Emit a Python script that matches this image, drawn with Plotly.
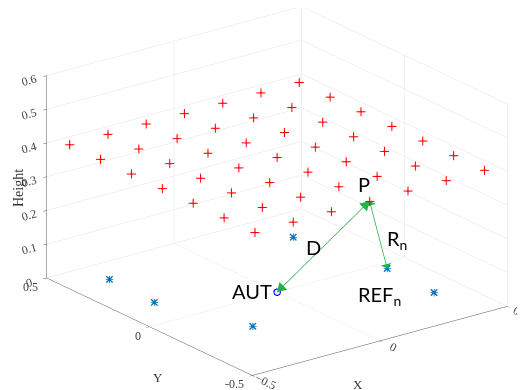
import numpy as np
import plotly.graph_objects as go

# ---- data ----
grid_x = [-0.45, -0.30, -0.15, 0.0, 0.15, 0.30, 0.45]
grid_y = [-0.45, -0.30, -0.15, 0.0, 0.15, 0.30, 0.45]
grid_height = 0.4

ref_x = [-0.35, -0.36, -0.24, 0.33, 0.40, 0.39]
ref_y = [0.38, 0.15, -0.18, 0.33, -0.04, -0.28]
ref_z = [0, 0, 0, 0, 0, 0]

aut = [0.0, 0.0, 0.0]
p_point = [0.0, -0.45, 0.4]
ref_n_index = 4

x_ticks = [-0.5, 0, 0.5]
y_ticks = [-0.5, 0, 0.5]
y_tick_labels = ["-0.5", "0", "0.5"]
z_ticks = [0, 0.1, 0.2, 0.3, 0.4, 0.5, 0.6]
x_range = [-0.5, 0.5]
y_range = [-0.5, 0.5]
z_range = [0, 0.6]

RED = "#ff0000"
BLUE = "#0072BD"
GREEN = "#22b14c"

# ---- view ----
zoom = 1.75
aspect = np.array([0.937, 1.0, 0.635]) * zoom
elev = np.radians(21.0)
azim = np.radians(180 + 52.9)
eye_dir = np.array([np.cos(elev) * np.cos(azim), np.cos(elev) * np.sin(azim), np.sin(elev)])
r = 2.0
right_vec = np.array([-np.sin(azim), np.cos(azim), 0.0])
center = np.array([0.0, 0.0, 0.0]) - 0.033 * right_vec + np.array([0, 0, -0.066])

span = np.array([x_range[1] - x_range[0], y_range[1] - y_range[0], z_range[1] - z_range[0]])
scale = aspect / span  # data -> scene units

gx, gy = np.meshgrid(grid_x, grid_y)
gx = gx.ravel()
gy = gy.ravel()
gz = np.full_like(gx, grid_height)

fig = go.Figure()
fig.add_trace(go.Scatter3d(x=gx, y=gy, z=gz, mode="markers",
                           marker=dict(symbol="cross", size=5, color=RED),
                           showlegend=False, hoverinfo="skip"))
fig.add_trace(go.Scatter3d(x=ref_x, y=ref_y, z=ref_z, mode="markers",
                           marker=dict(symbol="cross", size=4, color=BLUE),
                           showlegend=False, hoverinfo="skip"))
fig.add_trace(go.Scatter3d(x=ref_x, y=ref_y, z=ref_z, mode="markers",
                           marker=dict(symbol="x", size=1.6, color=BLUE),
                           showlegend=False, hoverinfo="skip"))
fig.add_trace(go.Scatter3d(x=[aut[0]], y=[aut[1]], z=[aut[2]], mode="markers",
                           marker=dict(symbol="circle-open", size=4, color="#0000ff",
                                       line=dict(width=1.5, color="#0000ff")),
                           showlegend=False, hoverinfo="skip"))

ref_n = [ref_x[ref_n_index], ref_y[ref_n_index], ref_z[ref_n_index]]

head_len = 0.075   # scene units
head_half = 0.028

mesh_x, mesh_y, mesh_z, mi, mj, mk = [], [], [], [], [], []


def add_head(tip, tail):
    t_s = np.array(tip, float) * scale
    s_s = np.array(tail, float) * scale
    d = t_s - s_s
    d /= np.linalg.norm(d)
    n = np.cross(d, eye_dir)
    n /= np.linalg.norm(n)
    base = t_s - head_len * d
    pts = [t_s, base + head_half * n, base - head_half * n]
    start = len(mesh_x)
    for p in pts:
        p = p / scale
        mesh_x.append(p[0]); mesh_y.append(p[1]); mesh_z.append(p[2])
    mi.append(start); mj.append(start + 1); mk.append(start + 2)


def double_arrow(a, b):
    fig.add_trace(go.Scatter3d(x=[a[0], b[0]], y=[a[1], b[1]], z=[a[2], b[2]],
                               mode="lines", line=dict(color=GREEN, width=1.5),
                               showlegend=False, hoverinfo="skip"))
    add_head(b, a)
    add_head(a, b)


double_arrow(p_point, aut)
double_arrow(p_point, ref_n)
fig.add_trace(go.Mesh3d(x=mesh_x, y=mesh_y, z=mesh_z, i=mi, j=mj, k=mk,
                        color=GREEN, opacity=1, flatshading=True,
                        lighting=dict(ambient=1, diffuse=0, specular=0, fresnel=0, roughness=1),
                        hoverinfo="skip", showscale=False))

label_font = dict(family="Lato", size=20, color="black")
axis_title_font = dict(family="Liberation Serif", size=13, color="#333333")
ann_tick_font = dict(family="Liberation Serif", size=12, color="#444444")
tick_font = dict(family="Liberation Serif", size=12, color="#444444")
mid_d = [(p_point[i] + aut[i]) / 2 for i in range(3)]
mid_r = [(p_point[i] + ref_n[i]) / 2 for i in range(3)]
annotations = [
    dict(x=p_point[0], y=p_point[1], z=p_point[2], text="P", showarrow=False,
         yshift=17, xshift=-6, font=label_font),
    dict(x=aut[0], y=aut[1], z=aut[2], text="AUT", showarrow=False,
         xanchor="right", xshift=-3, yshift=1, font=label_font),
    dict(x=mid_d[0], y=mid_d[1], z=mid_d[2], text="D", showarrow=False,
         xshift=-10, yshift=0, font=label_font),
    dict(x=mid_r[0], y=mid_r[1], z=mid_r[2], text="R<sub>n</sub>", showarrow=False,
         xshift=19, yshift=-5, font=label_font),
    dict(x=ref_n[0], y=ref_n[1], z=ref_n[2], text="REF<sub>n</sub>", showarrow=False,
         yshift=-27, xshift=-8, font=label_font),
    dict(x=0, y=y_range[0], z=z_range[0], text="X", showarrow=False,
         xshift=-22, yshift=-44, font=axis_title_font),
    dict(x=x_range[0], y=0, z=z_range[0], text="Y", showarrow=False,
         xshift=9, yshift=-51, font=axis_title_font),
]
for tv, tt in zip(y_ticks, y_tick_labels):
    annotations.append(dict(x=x_range[0], y=tv, z=z_range[0], text=tt, showarrow=False,
                            xanchor="right", xshift=-6, yshift=-9, font=ann_tick_font))

axis_common = dict(showbackground=False, gridcolor="#e3e3e3", gridwidth=1,
                   showline=True, linecolor="#555555", linewidth=1,
                   ticks="outside", tickcolor="#555555", ticklen=4,
                   tickfont=tick_font, zeroline=False, showspikes=False)

fig.update_layout(
    width=525, height=390, margin=dict(l=0, r=0, t=0, b=0),
    paper_bgcolor="white",
    scene=dict(
        xaxis=dict(range=x_range, tickvals=x_ticks, title=dict(text=""), **axis_common),
        yaxis=dict(range=y_range, tickvals=y_ticks, title=dict(text=""), showticklabels=False,
                   **axis_common),
        zaxis=dict(range=z_range, tickvals=z_ticks, title=dict(text=""), **axis_common),
        aspectmode="manual", aspectratio=dict(x=aspect[0], y=aspect[1], z=aspect[2]),
        camera=dict(eye=dict(x=center[0] + eye_dir[0] * r, y=center[1] + eye_dir[1] * r,
                             z=center[2] + eye_dir[2] * r),
                    up=dict(x=0, y=0, z=1), center=dict(x=center[0], y=center[1], z=center[2]),
                    projection=dict(type="orthographic")),
        annotations=annotations,
        domain=dict(x=[0, 1], y=[0, 1]),
    ),
    annotations=[dict(text="Height", textangle=-90, showarrow=False,
                      xref="paper", yref="paper", x=10 / 525, y=1 - 180 / 390,
                      xanchor="center", yanchor="middle",
                      font=dict(family="Liberation Serif", size=14, color="#333333"))],
)
fig.write_html("out.html")
